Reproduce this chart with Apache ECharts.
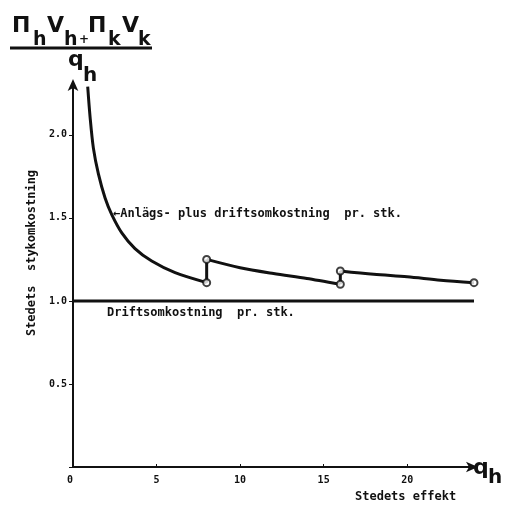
<!DOCTYPE html>
<html lang="da">
<head>
  <meta charset="UTF-8">
  <title>Stedets stykomkostning</title>
  <script src="https://cdn.jsdelivr.net/npm/echarts@6/dist/echarts.min.js"></script>
  <style>
    html, body { margin: 0; padding: 0; background: #fff; }
  </style>
</head>
<body>
  <div id="chart" style="width: 506px;height:506px"></div>
  <script>
    // akser
    var xTicks = [0, 5, 10, 15, 20]
    var yTickLabels = ['', '0.5', '1.0', '1.5', '2.0']

    // anlaegs- plus driftsomkostning, tre stykker (q, omkostning)
    var seg1Q = [0.88, 1.02, 1.22, 1.52, 1.92, 2.32, 2.92, 3.71, 4.71, 6.11, 8]
    var seg1V = [2.29, 2.11, 1.92, 1.765, 1.62, 1.52, 1.41, 1.315, 1.24, 1.17, 1.11]
    var seg2Q = [8, 10, 12, 14, 16]
    var seg2V = [1.25, 1.20, 1.165, 1.135, 1.10]
    var seg3Q = [16, 18, 20, 22, 24]
    var seg3V = [1.18, 1.16, 1.145, 1.125, 1.11]

    // driftsomkostning
    var driftQ = [0, 24]
    var driftV = [1.0, 1.0]

    // aabne cirkler ved springene
    var ringQ = [8, 8, 16, 16, 24]
    var ringV = [1.11, 1.25, 1.10, 1.18, 1.11]

    function pairs(qs, vs) {
      var out = []
      for (var i = 0; i < qs.length; i++) out.push([qs[i], vs[i]])
      return out
    }

    var ink = '#111'
    var mono = '"DejaVu Sans Mono"'
    var sans = '"DejaVu Sans"'

    var lineStyle = { color: ink, width: 3 }
    function curve(data, smooth) {
      return {
        type: 'line', data: data, symbol: 'none', smooth: smooth,
        lineStyle: lineStyle, silent: true, z: 3
      }
    }

    // enkelt bogstav i formlen
    function glyph(t, x, y, size) {
      return {
        type: 'text', x: x, y: y,
        style: { text: t, fill: ink, font: 'bold ' + size + 'px ' + sans, textVerticalAlign: 'middle' }
      }
    }

    var mCharts = echarts.init(document.getElementById('chart'))
    var option = {
      animation: false,
      grid: { left: 73, right: 32, top: 85, bottom: 39 },
      xAxis: {
        type: 'value', min: 0, max: 24, interval: 5,
        axisLine: { lineStyle: { color: ink, width: 2 }, symbol: ['none', 'arrow'], symbolSize: [8, 12], symbolOffset: [0, 4] },
        axisTick: { inside: true, length: 3, lineStyle: { color: ink } },
        splitLine: { show: false },
        axisLabel: {
          color: ink, fontFamily: mono, fontWeight: 'bold', fontSize: 10, margin: 8,
          showMaxLabel: false, alignMinLabel: 'right',
          formatter: function (v) { return xTicks.indexOf(v) >= 0 ? String(v) : '' }
        }
      },
      yAxis: {
        type: 'value', min: 0, max: 2.3, interval: 0.5,
        axisLine: { show: true, lineStyle: { color: ink, width: 2 }, symbol: ['none', 'arrow'], symbolSize: [8, 12], symbolOffset: [0, 6] },
        axisTick: { show: true, length: 4, lineStyle: { color: ink } },
        splitLine: { show: false },
        axisLabel: {
          color: ink, fontFamily: mono, fontWeight: 'bold', fontSize: 10, margin: 6,
          showMaxLabel: false,
          formatter: function (v) { return yTickLabels[Math.round(v / 0.5)] || '' }
        }
      },
      series: [
        curve(pairs(driftQ, driftV), false),
        curve(pairs(seg1Q, seg1V), 0.3),
        curve([[seg1Q[seg1Q.length - 1], seg1V[seg1V.length - 1]], [seg2Q[0], seg2V[0]]], false),
        curve(pairs(seg2Q, seg2V), 0.3),
        curve([[seg2Q[seg2Q.length - 1], seg2V[seg2V.length - 1]], [seg3Q[0], seg3V[0]]], false),
        curve(pairs(seg3Q, seg3V), 0.3),
        {
          type: 'scatter', data: pairs(ringQ, ringV), symbol: 'circle', symbolSize: 7,
          itemStyle: { color: '#fff', borderColor: ink, borderWidth: 2 }, z: 5, silent: true
        }
      ],
      graphic: [
        // broek: (πh vh + πk vk) / qh
        glyph('Π', 12, 26, 22), glyph('h', 33, 40, 19),
        glyph('V', 47, 26, 22), glyph('h', 64, 40, 19),
        glyph('+', 79, 40, 12),
        glyph('Π', 88, 26, 22), glyph('k', 108, 40, 19),
        glyph('V', 122, 26, 22), glyph('k', 138, 40, 19),
        { type: 'line', shape: { x1: 10, y1: 48, x2: 152, y2: 48 }, style: { stroke: ink, lineWidth: 3 } },
        glyph('q', 68, 60, 22), glyph('h', 83, 76, 20),
        // q_h ved x-aksen
        glyph('q', 473, 468, 22), glyph('h', 488, 478, 20),
        {
          type: 'text', x: 355, y: 497,
          style: { text: 'Stedets effekt', fill: ink, font: 'bold 12px ' + mono, textVerticalAlign: 'middle' }
        },
        {
          type: 'text', x: 32, y: 253, rotation: Math.PI / 2,
          style: { text: 'Stedets  stykomkostning', fill: ink, font: 'bold 12px ' + mono, textAlign: 'center', textVerticalAlign: 'middle' }
        },
        {
          type: 'text', x: 113, y: 214,
          style: { text: '←Anlägs- plus driftsomkostning  pr. stk.', fill: ink, font: 'bold 12px ' + mono, textVerticalAlign: 'middle' }
        },
        {
          type: 'text', x: 107, y: 313,
          style: { text: 'Driftsomkostning  pr. stk.', fill: ink, font: 'bold 12px ' + mono, textVerticalAlign: 'middle' }
        }
      ]
    }
    mCharts.setOption(option)
  </script>
</body>
</html>
